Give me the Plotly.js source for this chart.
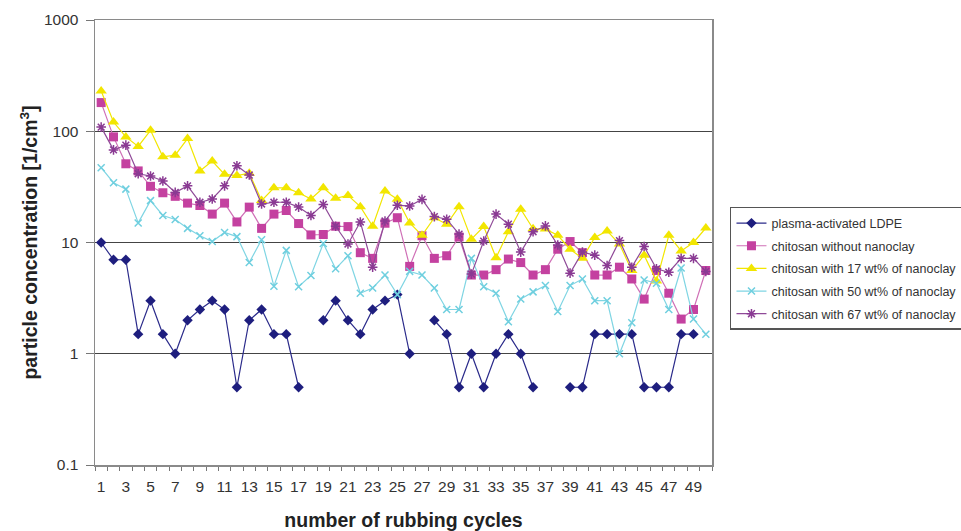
<!DOCTYPE html>
<html>
<head>
<meta charset="utf-8">
<script src="https://cdn.plot.ly/plotly-3.0.1.min.js"></script>
<style>html,body{margin:0;padding:0;background:#fff;}#chart{width:961px;height:531px;}</style>
</head>
<body>
<div id="chart"></div>
<script>
var cycles = [1,2,3,4,5,6,7,8,9,10,11,12,13,14,15,16,17,18,19,20,21,22,23,24,25,26,27,28,29,30,31,32,33,34,35,36,37,38,39,40,41,42,43,44,45,46,47,48,49,50];
var tickCycles = [1,3,5,7,9,11,13,15,17,19,21,23,25,27,29,31,33,35,37,39,41,43,45,47,49];
var yTicks = [0.1,1,10,100,1000];
var yTickText = ['0.1','1','10','100','1000'];

var seriesNames = ['plasma-activated LDPE','chitosan without nanoclay','chitosan with 17 wt% of nanoclay','chitosan with 50 wt% of nanoclay','chitosan with 67 wt% of nanoclay'];

var plasmaLDPE = [10,7,7,1.5,3,1.5,1,2,2.5,3, 2.5,0.5,2,2.5,1.5,1.5,0.5,null,2,3, 2,1.5,2.5,3,3.4,1,null,2,1.5,0.5, 1,0.5,1,1.5,1,0.5,null,null,0.5,0.5, 1.5,1.5,1.5,1.5,0.5,0.5,0.5,1.5,1.5,null];
var chitosan0 = [181,89,51,44,32,28,26,22.6,21.5,18, 22.6,15.3,20.8,13.4,18,19.4,14.8,11.7,11.8,14, 13.9,8.1,7.2,14.9,16.7,6.1,11.5,7.2,7.6,11.2, 5.1,5.1,5.7,7.1,6.6,5.1,5.7,8.7,10.2,8.1, 5.1,5.1,6.0,4.7,3.1,5.6,3.5,2.05,2.5,5.6];
var chitosan17 = [230,121,89,73,102,59,61,86,44,54, 41,40,42,23.8,31,31,28,24.6,31,25, 26.5,21,14,29,24.5,15,11.6,16.7,14.6,21, 10.7,13.9,7.3,12.5,19.9,13.3,13.2,11.6,8.7,7.2, 11.1,12.7,9.7,5.6,7.7,4.5,11.6,8.4,10,13.5];
var chitosan50 = [47,34.5,30.2,15,23.8,17.5,16.1,13.4,11.5,10.2, 12.3,11.3,6.6,10.6,4.05,8.5,4.0,5.05,9.8,5.8, 7.6,3.5,3.9,5.1,3.4,5.5,5.1,3.9,2.5,2.5, 7.2,4.0,3.5,1.94,3.1,3.6,4.1,2.4,4.1,4.7, 3.0,3.0,1.0,1.9,4.6,4.3,2.5,5.9,2.05,1.5];
var chitosan67 = [109,68,75,41.5,39.6,35.7,28.2,32.3,23,24.6, 32.3,49,40.4,22.2,23,23,20.8,17.5,22,14, 9.7,15.3,6.0,15.6,21.6,21.3,24.4,17.1,16.2,11.9, 5.2,10.3,18,14.6,8.2,12.5,14.1,9.5,5.3,8.2, 7.7,6.2,10.4,6.0,9.2,5.8,5.4,7.2,7.2,5.5];

var FONT = 'Liberation Sans, Arial, sans-serif';

function tr(idx, y, color, lineColor, symbol, size, mline) {
  return {
    x: cycles, y: y, type: 'scatter', mode: 'lines+markers',
    name: seriesNames[idx], legendgroup: 'g' + idx,
    connectgaps: false,
    line: {color: lineColor, width: 1.2},
    marker: {symbol: symbol, size: size, color: color, line: mline || {width: 0}}
  };
}

var traces = [
  tr(0, plasmaLDPE, '#1e1e7e', '#2a2a8a', 'diamond', 8),
  tr(1, chitosan0, '#c441a0', '#cf6fb6', 'square', 9),
  tr(2, chitosan17, '#f2e600', '#f2e600', 'triangle-up', 10),
  tr(3, chitosan50, '#6fcfdf', '#7fd5e3', 'x-thin-open', 7, {color: '#6fcfdf', width: 1.5}),
  tr(4, chitosan67, '#8a3a93', '#8f4a98', 'asterisk-open', 8, {color: '#8a3a93', width: 1.5})
];

var layout = {
  width: 961, height: 531,
  margin: {l: 95, r: 249, t: 20, b: 66},
  paper_bgcolor: '#ffffff', plot_bgcolor: '#ffffff',
  font: {family: FONT, color: '#333333', size: 15},
  showlegend: true,
  legend: {
    xref: 'container', yref: 'container',
    x: 0.7596, y: 0.6102, xanchor: 'left', yanchor: 'top',
    bgcolor: '#ffffff', bordercolor: '#555555', borderwidth: 1.5,
    font: {family: FONT, size: 12.5, color: '#333333'},
    traceorder: 'grouped', tracegroupgap: 3.4
  },
  xaxis: {
    range: [0.5, 50.5],
    tickmode: 'array', tickvals: tickCycles, ticktext: tickCycles.map(String),
    ticks: '', ticklabelstandoff: 7,
    tickfont: {family: FONT, size: 15.5, color: '#333333'},
    minor: {tickmode: 'linear', tick0: 0.5, dtick: 1, ticks: 'outside', ticklen: 4, tickcolor: '#777777', tickwidth: 1, showgrid: false},
    showgrid: false, zeroline: false,
    showline: true, linecolor: '#8a8a8a', linewidth: 1.5, mirror: true,
    title: {text: 'number of rubbing cycles', standoff: 20, font: {family: FONT, size: 19.5, color: '#222222', weight: 'bold'}}
  },
  yaxis: {
    type: 'log', range: [-1, 3],
    tickmode: 'array', tickvals: yTicks, ticktext: yTickText,
    ticks: 'outside', ticklen: 8, tickcolor: '#777777', tickwidth: 1,
    ticklabelstandoff: 4,
    tickfont: {family: FONT, size: 15.5, color: '#333333'},
    showgrid: true, gridcolor: '#444444', gridwidth: 1.2,
    zeroline: false,
    showline: true, linecolor: '#8a8a8a', linewidth: 1.5, mirror: true,
    title: {text: 'particle concentration [1/cm<sup>3</sup>]', standoff: 1, font: {family: FONT, size: 19.5, color: '#222222', weight: 'bold'}}
  }
};

Plotly.newPlot('chart', traces, layout, {displayModeBar: false, staticPlot: true});
</script>
</body>
</html>
